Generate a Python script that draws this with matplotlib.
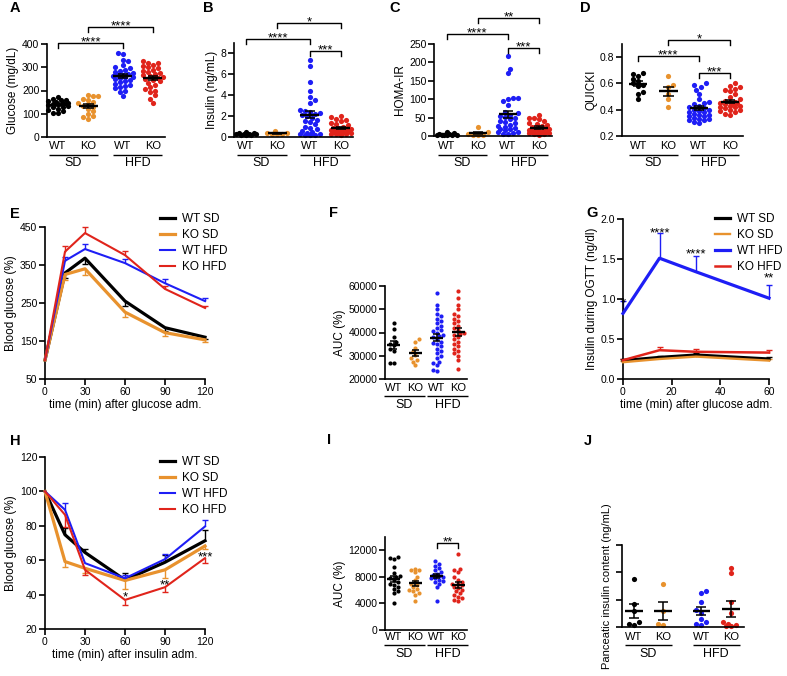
import numpy as np
import matplotlib
matplotlib.use('Agg')
import matplotlib.pyplot as plt
from matplotlib import transforms

plt.rcParams['font.family'] = ['Liberation Sans', 'DejaVu Sans']

# ---------------- data ----------------
groups = ['WT', 'KO', 'WT', 'KO']
diets = ['SD', 'HFD']
series_names = ['WT SD', 'KO SD', 'WT HFD', 'KO HFD']

# A  glucose (mg/dL)
glu_wt_sd = [172, 165, 160, 158, 155, 150, 148, 145, 142, 140, 138, 135, 130, 128, 122, 118, 110, 105, 102]
glu_ko_sd = [180, 178, 175, 165, 160, 150, 145, 140, 135, 130, 120, 110, 100, 90, 85, 78]
glu_wt_hfd = [362, 355, 330, 325, 310, 300, 295, 290, 285, 280, 275, 270, 268, 265, 262, 260, 258, 255,
              250, 245, 240, 235, 230, 225, 220, 215, 210, 200, 195, 178]
glu_ko_hfd = [325, 320, 318, 310, 305, 300, 295, 290, 285, 280, 275, 270, 265, 262, 258, 255, 250, 245,
              240, 232, 225, 215, 205, 200, 195, 180, 165, 148]

# B  insulin (ng/mL)
ins_wt_sd = [0.45, 0.40, 0.35, 0.32, 0.30, 0.28, 0.25, 0.22, 0.20, 0.18]
ins_ko_sd = [0.55, 0.40, 0.35, 0.30, 0.28, 0.25]
ins_wt_hfd = [7.3, 6.8, 5.2, 4.4, 3.8, 3.5, 3.2, 2.6, 2.5, 2.4, 2.3, 2.2, 2.1, 2.0, 1.8, 1.6, 1.5, 1.4,
              1.2, 1.0, 0.9, 0.8, 0.6, 0.5, 0.4, 0.3, 0.3, 0.2, 0.2, 0.15]
ins_ko_hfd = [2.0, 1.9, 1.7, 1.6, 1.5, 1.3, 1.2, 1.1, 1.0, 0.9, 0.9, 0.8, 0.8, 0.7, 0.7, 0.6, 0.6, 0.5,
              0.5, 0.4, 0.4, 0.3, 0.3, 0.25, 0.2]

# C  HOMA-IR
homa_wt_sd = [10, 8, 6, 5, 4, 4, 3, 3, 2, 2]
homa_ko_sd = [25, 10, 6, 4, 3, 2]
homa_wt_hfd = [217, 181, 170, 104, 102, 100, 95, 85, 65, 62, 58, 55, 52, 50, 45, 40, 38, 35, 30, 28,
               25, 22, 20, 18, 15, 12, 10, 8, 6, 5]
homa_ko_hfd = [58, 50, 48, 45, 40, 35, 32, 30, 28, 25, 22, 20, 18, 17, 15, 14, 12, 11, 10, 9, 8, 7, 6, 5, 4]

# D  QUICKI
q_wt_sd = [0.68, 0.675, 0.66, 0.635, 0.615, 0.60, 0.59, 0.58, 0.535, 0.52, 0.48]
q_ko_sd = [0.66, 0.59, 0.57, 0.52, 0.48, 0.42]
q_wt_hfd = [0.60, 0.585, 0.575, 0.55, 0.52, 0.48, 0.46, 0.45, 0.44, 0.43, 0.42, 0.41, 0.40, 0.40, 0.39,
            0.38, 0.38, 0.37, 0.36, 0.36, 0.35, 0.35, 0.34, 0.33, 0.33, 0.32, 0.32, 0.31, 0.30]
q_ko_hfd = [0.60, 0.58, 0.575, 0.56, 0.55, 0.54, 0.52, 0.50, 0.48, 0.47, 0.46, 0.455, 0.45, 0.45, 0.44,
            0.44, 0.43, 0.43, 0.42, 0.42, 0.41, 0.40, 0.40, 0.39, 0.38, 0.37, 0.36]

# E  OGTT blood glucose (%)
t_gtt = [0, 15, 30, 60, 90, 120]
gtt_wt_sd = [100, 329, 368, 255, 185, 160]
gtt_ko_sd = [100, 325, 340, 226, 172, 153]
gtt_wt_hfd = [100, 361, 392, 355, 302, 255]
gtt_ko_hfd = [100, 385, 434, 376, 287, 237]
gtt_wt_sd_sem = [0, 12, 15, 12, 8, 5]
gtt_ko_sd_sem = [0, 15, 15, 12, 8, 6]
gtt_wt_hfd_sem = [0, 10, 12, 10, 10, 8]
gtt_ko_hfd_sem = [0, 15, 15, 12, 8, 5]

# F  OGTT AUC (%)
auc_wt_sd = [44000, 41500, 38000, 36000, 35000, 34500, 33000, 32000, 27000, 27000]
auc_ko_sd = [37000, 36000, 33500, 32000, 30500, 29000, 28000, 27500, 26000]
auc_wt_hfd = [57000, 52000, 50000, 48000, 47000, 46000, 45000, 44000, 43000, 42000, 41000, 40500, 40000,
              39000, 38500, 38000, 37000, 36000, 35500, 35000, 34000, 33000, 32000, 31000, 30000, 29000,
              27500, 27000, 26000, 24000, 23500]
auc_ko_hfd = [58000, 55000, 52000, 50000, 48000, 47000, 46000, 45000, 44000, 43000, 42000, 41000, 40000,
              39500, 39000, 38000, 37000, 36000, 35000, 34000, 33000, 32000, 31000, 30000, 28000, 24500]

# G  insulin during OGTT (ng/dl)
t_ins = [0, 15, 30, 60]
gins_wt_sd = [0.23, 0.27, 0.30, 0.25]
gins_ko_sd = [0.21, 0.25, 0.28, 0.23]
gins_wt_hfd = [0.82, 1.51, 1.34, 1.01]
gins_ko_hfd = [0.235, 0.36, 0.34, 0.33]
gins_wt_sd_sem = [0.02, 0.02, 0.02, 0.02]
gins_ko_sd_sem = [0.02, 0.02, 0.02, 0.02]
gins_wt_hfd_sem = [0.15, 0.31, 0.20, 0.16]
gins_ko_hfd_sem = [0.02, 0.04, 0.03, 0.03]
g_stars = ['*', '****', '****', '**']
g_star_y = [1.0, 1.875, 1.61, 1.32]

# H  ITT blood glucose (%)
t_itt = [0, 15, 30, 60, 90, 120]
itt_wt_sd = [100, 74.8, 64.5, 48.5, 58.8, 71.3]
itt_ko_sd = [100, 59.2, 55.3, 48.2, 54.4, 68.3]
itt_wt_hfd = [100, 89.3, 58.3, 49.5, 60.6, 79.6]
itt_ko_hfd = [100, 86.4, 54.4, 36.9, 44.3, 61.2]
itt_wt_sd_sem = [0, 4, 2, 4, 4, 6]
itt_ko_sd_sem = [0, 3, 3, 5, 5, 2]
itt_wt_hfd_sem = [0, 4, 0, 2, 3, 4]
itt_ko_hfd_sem = [0, 7, 3, 3, 3, 3]
h_star_t = [60, 90, 120]
h_stars = ['*', '**', '***']
h_star_y = [41, 48, 64.2]

# I  ITT AUC (%)
iauc_wt_sd = [11000, 10800, 10700, 9500, 8600, 8200, 8000, 7800, 7500, 7200, 7000, 6800, 6500, 6200,
              5800, 5500, 4000]
iauc_ko_sd = [9200, 9100, 9000, 8800, 8000, 7500, 7000, 6800, 6500, 6200, 6000, 5800, 5600, 5300, 4300]
iauc_wt_hfd = [10400, 10000, 9600, 9300, 9000, 8800, 8500, 8300, 8100, 8000, 7900, 7800, 7600, 7400,
               7200, 7000, 6500, 4400]
iauc_ko_hfd = [11500, 9200, 9000, 8700, 8000, 7600, 7300, 7000, 6900, 6700, 6500, 6300, 6000, 5800,
               5500, 5200, 5000, 4800, 4500, 4400]

# J  pancreatic insulin content (ng/mL)
panc_wt_sd = [8.8, 4.2, 3.0, 1.0, 0.5, 0.3]
panc_ko_sd = [7.8, 3.0, 0.6, 0.3]
panc_wt_hfd = [6.5, 6.2, 4.5, 3.2, 2.5, 1.5, 1.0, 0.5, 0.3]
panc_ko_hfd = [10.8, 9.8, 4.5, 2.5, 1.0, 0.5, 0.3, 0.2, 0.2]

# ---------------- style ----------------
C_BLACK = '#000000'
C_ORANGE = '#E8922E'
C_BLUE = '#1E1EF5'
C_RED = '#E0241B'
colors = [C_BLACK, C_ORANGE, C_BLUE, C_RED]

W, H = 787, 676
fig = plt.figure(figsize=(W / 100, H / 100), dpi=100)


def fy(y):
    return 1 - y / H


def style(ax):
    for s in ['top', 'right']:
        ax.spines[s].set_visible(False)
    for s in ['left', 'bottom']:
        ax.spines[s].set_linewidth(1.2)
    ax.tick_params(direction='out', length=4, width=1.2, labelsize=7.5, pad=1.5)
    ax.patch.set_alpha(0)


def add_ax(l, t, r, b):
    ax = fig.add_axes([l / W, 1 - b / H, (r - l) / W, (b - t) / H])
    style(ax)
    return ax


def beeswarm(ys_px, dot, maxw):
    """Deterministic horizontal spread (in px) so that dots do not overlap."""
    ys_px = np.asarray(ys_px, float)
    order = np.argsort(ys_px)
    offs = np.zeros(len(ys_px))
    placed = []
    step = dot * 0.5
    nk = int(maxw / step)
    flip = 1
    for i in order:
        cands = [0.0]
        for k in range(1, nk + 1):
            cands += [flip * k * step, -flip * k * step]
        flip = -flip
        best, bestd = 0.0, -1.0
        chosen = None
        for cx in cands:
            if not placed:
                chosen = cx
                break
            pa = np.array(placed)
            md = np.min(np.hypot(pa[:, 0] - cx, pa[:, 1] - ys_px[i]))
            if md >= dot * 0.92:
                chosen = cx
                break
            if md > bestd:
                bestd, best = md, cx
        if chosen is None:
            chosen = best
        offs[i] = chosen
        placed.append((chosen, ys_px[i]))
    return offs


def dot_panel(ax, data, pos, dot_px=5.0, s=14, maxw=10):
    bb = ax.get_position()
    y0, y1 = ax.get_ylim()
    x0, x1 = ax.get_xlim()
    ppy = bb.height * H / (y1 - y0)
    ppx = bb.width * W / (x1 - x0)
    for vals, p, c in zip(data, pos, colors):
        off = beeswarm(np.asarray(vals, float) * ppy, dot_px, maxw) / ppx
        ax.scatter(p + off, vals, s=s, color=c, lw=0, zorder=2, clip_on=False)
        m = np.mean(vals)
        se = np.std(vals, ddof=1) / np.sqrt(len(vals))
        ax.plot([p - 0.3, p + 0.3], [m, m], color='k', lw=1.7, zorder=3, solid_capstyle='butt')
        ax.vlines(p, m - se, m + se, color='k', lw=1.1, zorder=3)
        ax.hlines([m - se, m + se], p - 0.17, p + 0.17, color='k', lw=1.1, zorder=3)
    ax.set_xticks([])
    ax.tick_params(axis='x', length=0)


def cat_labels(ax, pos, ylab, yline, ygrp, ext=0.3, fs=8, gfs=9):
    tr = transforms.blended_transform_factory(ax.transData, fig.transFigure)
    for p, lab in zip(pos, groups):
        ax.text(p, fy(ylab), lab, transform=tr, ha='center', va='center', fontsize=fs)
    for (i, j), g in zip([(0, 1), (2, 3)], diets):
        ax.plot([pos[i] - ext, pos[j] + ext], [fy(yline)] * 2, transform=tr, color='k', lw=1.0,
                clip_on=False, solid_capstyle='butt')
        ax.text((pos[i] + pos[j]) / 2, fy(ygrp), g, transform=tr, ha='center', va='center', fontsize=gfs)


def bracket(ax, x1, x2, ypx, label, drop=5, fs=9.5):
    tr = transforms.blended_transform_factory(ax.transData, fig.transFigure)
    ax.plot([x1, x1, x2, x2], [fy(ypx + drop), fy(ypx), fy(ypx), fy(ypx + drop)], transform=tr,
            color='k', lw=1.0, clip_on=False)
    tr2 = transforms.offset_copy(tr, fig=fig, x=0, y=-0.575 * fs, units='points')
    ax.text((x1 + x2) / 2, fy(ypx - 5.5), label, transform=tr2, ha='center', va='baseline', fontsize=fs)


def star(ax, x, y, label, fs=9.5):
    tr2 = transforms.offset_copy(ax.transData, fig=fig, x=0, y=-0.575 * fs, units='points')
    ax.text(x, y, label, transform=tr2, ha='center', va='baseline', fontsize=fs, clip_on=False)


def line_panel(ax, t, ys, sems, dirs, lws):
    handles = []
    for y, e, d, c, lw, name in zip(ys, sems, dirs, colors, lws, series_names):
        y = np.asarray(y, float)
        e = np.asarray(e, float)
        t_ = np.asarray(t, float)
        ln, = ax.plot(t_, y, color=c, lw=lw, label=name, zorder=3, clip_on=False)
        handles.append(ln)
        m = e > 0
        ends = y + d * e
        ax.vlines(t_[m], y[m], ends[m], color=c, lw=1.0, zorder=2, clip_on=False)
        ax.plot(t_[m], ends[m], ls='none', marker='_', ms=5, mew=1.0, color=c, zorder=2, clip_on=False)
    return handles


def legend(ax, handles, xpx, ypx):
    ax.legend(handles=handles, loc='upper left', bbox_to_anchor=(xpx / W, fy(ypx)),
              bbox_transform=fig.transFigure, frameon=False, fontsize=8.5, handlelength=1.3,
              handletextpad=0.6, labelspacing=0.33, borderpad=0, borderaxespad=0)


def letter(x, y, s):
    fig.text(x / W, fy(y), s, fontsize=10.5, fontweight='bold', ha='left', va='center')


# ---------------- A ----------------
axA = add_ax(47, 44, 165, 137)
axA.set_ylim(0, 400)
axA.set_xlim(-0.35, 3.38)
axA.set_yticks([0, 100, 200, 300, 400])
posA = [0, 0.95, 2.05, 3.0]
dot_panel(axA, [glu_wt_sd, glu_ko_sd, glu_wt_hfd, glu_ko_hfd], posA)
axA.set_ylabel('Glucose (mg/dL)', fontsize=8.5, labelpad=2)
cat_labels(axA, posA, 146, 155, 163)
bracket(axA, posA[0], posA[2], 43, '****')
bracket(axA, posA[1], posA[3], 27, '****')

# ---------------- B ----------------
axB = add_ax(234, 42.5, 353, 137)
axB.set_ylim(0, 9)
axB.set_xlim(-0.38, 3.38)
axB.set_yticks([0, 2, 4, 6, 8])
posB = [0, 0.98, 2.02, 3.0]
dot_panel(axB, [ins_wt_sd, ins_ko_sd, ins_wt_hfd, ins_ko_hfd], posB)
axB.set_ylabel('Insulin (ng/mL)', fontsize=8.5, labelpad=2)
cat_labels(axB, posB, 146, 155, 163)
bracket(axB, posB[0], posB[2], 39, '****')
bracket(axB, posB[1], posB[3], 23, '*')
bracket(axB, posB[2], posB[3], 51, '***')

# ---------------- C ----------------
axC = add_ax(434, 44, 552, 136)
axC.set_ylim(0, 250)
axC.set_xlim(-0.42, 3.4)
axC.set_yticks([0, 50, 100, 150, 200, 250])
posC = [0, 1.0, 1.97, 2.98]
dot_panel(axC, [homa_wt_sd, homa_ko_sd, homa_wt_hfd, homa_ko_hfd], posC)
axC.set_ylabel('HOMA-IR', fontsize=8.5, labelpad=2)
cat_labels(axC, posC, 146, 155, 163)
bracket(axC, posC[0], posC[2], 34, '****')
bracket(axC, posC[1], posC[3], 18, '**')
bracket(axC, posC[2], posC[3], 48, '***')

# ---------------- D ----------------
axD = add_ax(622, 44, 743, 136)
axD.set_ylim(0.2, 0.9)
axD.set_xlim(-0.53, 3.43)
axD.set_yticks([0.2, 0.4, 0.6, 0.8])
axD.set_yticklabels(['0.2', '0.4', '0.6', '0.8'])
posD = [0, 0.99, 1.98, 3.0]
dot_panel(axD, [q_wt_sd, q_ko_sd, q_wt_hfd, q_ko_hfd], posD)
axD.set_ylabel('QUICKI', fontsize=8.5, labelpad=2)
cat_labels(axD, posD, 146, 155, 163)
bracket(axD, posD[0], posD[2], 56, '****')
bracket(axD, posD[1], posD[3], 40, '*')
bracket(axD, posD[2], posD[3], 73, '***')

# ---------------- E ----------------
axE = add_ax(45, 227, 205, 379)
axE.set_xlim(0, 120)
axE.set_ylim(50, 450)
axE.set_xticks([0, 30, 60, 90, 120])
axE.set_yticks([50, 150, 250, 350, 450])
hE = line_panel(axE, t_gtt, [gtt_wt_sd, gtt_ko_sd, gtt_wt_hfd, gtt_ko_hfd],
                [gtt_wt_sd_sem, gtt_ko_sd_sem, gtt_wt_hfd_sem, gtt_ko_hfd_sem],
                [-1, -1, 1, 1], [2.3, 2.3, 1.5, 1.5])
axE.set_ylabel('Blood glucose (%)', fontsize=8.5, labelpad=2)
axE.set_xlabel('time (min) after glucose adm.', fontsize=8.5, labelpad=2)
legend(axE, hE, 160, 213)

# ---------------- F ----------------
axF = add_ax(385, 286, 467, 379)
axF.set_ylim(20000, 60000)
axF.set_xlim(-0.4, 3.4)
axF.set_yticks([20000, 30000, 40000, 50000, 60000])
posF = [0, 1, 2, 3]
dot_panel(axF, [auc_wt_sd, auc_ko_sd, auc_wt_hfd, auc_ko_hfd], posF, dot_px=4.0, s=9, maxw=7)
axF.set_ylabel('AUC (%)', fontsize=8.5, labelpad=2)
cat_labels(axF, posF, 388, 396, 405, ext=0.45)

# ---------------- G ----------------
axG = add_ax(623, 219, 769, 379)
axG.set_xlim(0, 60)
axG.set_ylim(0, 2.0)
axG.set_xticks([0, 20, 40, 60])
axG.set_yticks([0, 0.5, 1.0, 1.5, 2.0])
axG.set_yticklabels(['0.0', '0.5', '1.0', '1.5', '2.0'])
hG = line_panel(axG, t_ins, [gins_wt_sd, gins_ko_sd, gins_wt_hfd, gins_ko_hfd],
                [gins_wt_sd_sem, gins_ko_sd_sem, gins_wt_hfd_sem, gins_ko_hfd_sem],
                [1, 1, 1, 1], [2.3, 1.7, 2.3, 1.8])
for tt, s_, yy in zip(t_ins, g_stars, g_star_y):
    star(axG, tt, yy, s_)
axG.set_ylabel('Insulin during OGTT (ng/dl)', fontsize=8.5, labelpad=2)
axG.set_xlabel('time (min) after glucose adm.', fontsize=8.5, labelpad=2)
legend(axG, hG, 715, 213)

# ---------------- H ----------------
axH = add_ax(45, 457, 205, 629)
axH.set_xlim(0, 120)
axH.set_ylim(20, 120)
axH.set_xticks([0, 30, 60, 90, 120])
axH.set_yticks([20, 40, 60, 80, 100, 120])
hH = line_panel(axH, t_itt, [itt_wt_sd, itt_ko_sd, itt_wt_hfd, itt_ko_hfd],
                [itt_wt_sd_sem, itt_ko_sd_sem, itt_wt_hfd_sem, itt_ko_hfd_sem],
                [1, -1, 1, -1], [2.3, 2.3, 1.5, 1.5])
for tt, s_, yy in zip(h_star_t, h_stars, h_star_y):
    star(axH, tt, yy, s_)
axH.set_ylabel('Blood glucose (%)', fontsize=8.5, labelpad=2)
axH.set_xlabel('time (min) after insulin adm.', fontsize=8.5, labelpad=2)
legend(axH, hH, 160, 456)

# ---------------- I ----------------
axI = add_ax(385, 537, 467, 630)
axI.set_ylim(0, 14000)
axI.set_xlim(-0.4, 3.4)
axI.set_yticks([0, 4000, 8000, 12000])
posI = [0, 1, 2, 3]
dot_panel(axI, [iauc_wt_sd, iauc_ko_sd, iauc_wt_hfd, iauc_ko_hfd], posI, dot_px=4.0, s=9, maxw=7)
axI.set_ylabel('AUC (%)', fontsize=8.5, labelpad=2)
cat_labels(axI, posI, 637, 645, 654, ext=0.45)
bracket(axI, posI[2], posI[3], 543, '**')

# ---------------- J ----------------
axJ = add_ax(622, 545, 744, 627)
axJ.set_ylim(0, 15)
axJ.set_xlim(-0.4, 3.75)
axJ.set_yticks([0, 5, 10, 15])
axJ.set_yticklabels([])
posJ = [0, 1, 2.3, 3.3]
dot_panel(axJ, [panc_wt_sd, panc_ko_sd, panc_wt_hfd, panc_ko_hfd], posJ, maxw=8)
axJ.set_ylabel('Panceatic insulin content (ng/mL)', fontsize=8, labelpad=2)
cat_labels(axJ, posJ, 637, 645, 654)

# ---------------- panel letters ----------------
letter(10, 8, 'A')
letter(203, 8, 'B')
letter(389, 8, 'C')
letter(580, 8, 'D')
letter(10, 214, 'E')
letter(329, 213, 'F')
letter(586, 213, 'G')
letter(10, 441, 'H')
letter(327, 440, 'I')
letter(584, 441, 'J')

fig.savefig('out.png', dpi=100)
